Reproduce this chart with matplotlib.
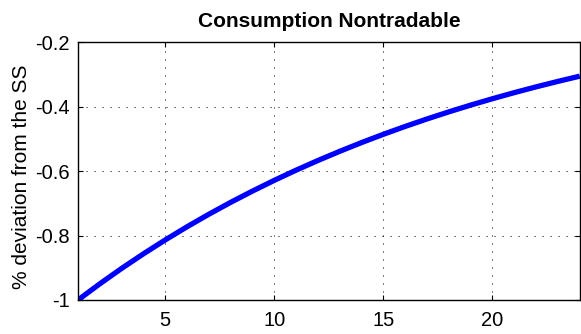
import matplotlib
matplotlib.use("Agg")
import matplotlib.pyplot as plt

# Impulse response of nontradable consumption, quarters 1..24
periods = list(range(1, 25))
consumption_nt = [
    -1.0000, -0.9497, -0.9019, -0.8566, -0.8135, -0.7726, -0.7337, -0.6968,
    -0.6618, -0.6285, -0.5969, -0.5669, -0.5384, -0.5113, -0.4856, -0.4612,
    -0.4380, -0.4160, -0.3950, -0.3752, -0.3563, -0.3384, -0.3214, -0.3052,
]
x_ticks = [5, 10, 15, 20]
y_ticks = [-1.0, -0.8, -0.6, -0.4, -0.2]
y_tick_labels = ["-1", "-0.8", "-0.6", "-0.4", "-0.2"]

plt.rcParams["font.family"] = ["Liberation Sans", "DejaVu Sans"]

fig = plt.figure(figsize=(5.81, 3.34), dpi=100)
ax = fig.add_axes([0.1343, 0.1018, 0.9978 - 0.1343, 0.8734 - 0.1018])

ax.plot(periods, consumption_nt, color=(0, 0, 1), linewidth=3.8,
        solid_capstyle="butt")

ax.set_xlim(1, 24)
ax.set_ylim(-1, -0.2)
ax.set_xticks(x_ticks)
ax.set_yticks(y_ticks)
ax.set_yticklabels(y_tick_labels)

ax.grid(True, color="k", linestyle=(0, (1, 7)), linewidth=0.72)
ax.tick_params(direction="in", length=3.5, width=0.8, top=True, right=True,
               labelsize=14.5, colors="k")
ax.tick_params(axis="x", pad=8)
ax.tick_params(axis="y", pad=6)
for s in ax.spines.values():
    s.set_linewidth(1.0)
    s.set_color("k")

ax.set_title("Consumption Nontradable", fontsize=15, fontweight="bold", pad=11)
ax.set_ylabel("% deviation from the SS", fontsize=15)
ax.yaxis.set_label_coords(-0.093, 0.48)

fig.savefig("out.png", dpi=100)
